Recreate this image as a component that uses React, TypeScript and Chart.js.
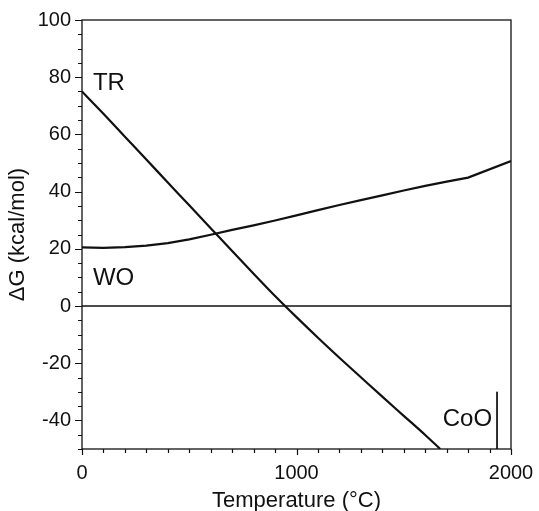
import React, { useEffect, useRef } from "react";
import { Chart, registerables } from "chart.js";

Chart.register(...registerables);

const trTemps = [0, 100, 200, 300, 400, 500, 600, 700, 800, 900, 1000, 1100, 1200, 1300, 1400, 1500, 1600, 1670];
const trValues = [75, 67.2, 59.2, 51.2, 43.2, 35.2, 27.2, 19.2, 11.3, 3.5, -3.9, -11.1, -18.1, -24.9, -31.7, -38.4, -45.1, -50];

const woTemps = [0, 100, 200, 300, 400, 500, 600, 700, 800, 900, 1000, 1100, 1200, 1300, 1400, 1500, 1600, 1700, 1800, 2000];
const woValues = [20.5, 20.3, 20.6, 21.1, 22.0, 23.3, 24.9, 26.6, 28.2, 29.9, 31.7, 33.5, 35.3, 37.0, 38.7, 40.4, 42.0, 43.5, 44.9, 50.7];

const zeroTemps = [0, 2000];
const zeroValues = [0, 0];

const cooTemps = [1935, 1935];
const cooValues = [-30, -50];

const yMajorLabels = [-40, -20, 0, 20, 40, 60, 80, 100];
const xMajorLabels = [0, 1000, 2000];

const curveLabels = [
  { text: "TR", x: 51, y: 75.5 },
  { text: "WO", x: 51, y: 7.3 },
  { text: "CoO", x: 1682, y: -42 },
];

const FONT = "'Liberation Sans', Arial, Helvetica, sans-serif";

const toPoints = (xs: number[], ys: number[]) => xs.map((x, i) => ({ x, y: ys[i] }));

const framePlugin = {
  id: "frame",
  afterDatasetsDraw(chart: any) {
    const { ctx, chartArea, scales } = chart;
    const xs = scales.x;
    const ys = scales.y;
    ctx.save();
    ctx.strokeStyle = "#111";
    ctx.lineWidth = 1.3;
    ctx.strokeRect(chartArea.left, chartArea.top, chartArea.right - chartArea.left, chartArea.bottom - chartArea.top);
    ctx.lineWidth = 1.2;
    ctx.beginPath();
    for (let v = -50; v <= 100; v += 5) {
      const py = Math.round(ys.getPixelForValue(v)) + 0.5;
      const len = yMajorLabels.includes(v) ? 7 : 4;
      ctx.moveTo(chartArea.left, py);
      ctx.lineTo(chartArea.left - len, py);
    }
    for (let v = 0; v <= 2000; v += 100) {
      const px = Math.round(xs.getPixelForValue(v)) + 0.5;
      const len = xMajorLabels.includes(v) ? 6 : 4;
      ctx.moveTo(px, chartArea.bottom);
      ctx.lineTo(px, chartArea.bottom + len);
    }
    ctx.stroke();
    ctx.fillStyle = "#111";
    ctx.font = `24px ${FONT}`;
    ctx.textAlign = "left";
    ctx.textBaseline = "alphabetic";
    for (const l of curveLabels) {
      ctx.fillText(l.text, xs.getPixelForValue(l.x), ys.getPixelForValue(l.y));
    }
    ctx.restore();
  },
};

export default function App() {
  const ref = useRef<HTMLCanvasElement>(null);
  useEffect(() => {
    if (!ref.current) return;
    const lineDs = (data: any[], width: number, smooth = false) => ({
      data,
      borderColor: "#111",
      borderWidth: width,
      pointRadius: 0,
      fill: false,
      tension: 0,
      ...(smooth ? { cubicInterpolationMode: "monotone" } : {}),
    });
    const chart = new Chart(ref.current, {
      type: "line",
      data: {
        datasets: [
          lineDs(toPoints(trTemps, trValues), 2.2, true),
          lineDs(toPoints(woTemps, woValues), 2.2),
          lineDs(toPoints(zeroTemps, zeroValues), 1.3),
          lineDs(toPoints(cooTemps, cooValues), 1),
        ] as any,
      },
      options: {
        animation: false,
        responsive: false,
        layout: { padding: { left: 0, right: 28, top: 20, bottom: 0 } },
        plugins: { legend: { display: false }, tooltip: { enabled: false } },
        scales: {
          x: {
            type: "linear",
            min: 0,
            max: 2000,
            border: { display: false },
            grid: { display: false, drawTicks: false },
            ticks: {
              stepSize: 100,
              autoSkip: false,
              maxRotation: 0,
              padding: 12,
              color: "#111",
              font: { family: FONT, size: 20 },
              callback: (v: any) => (xMajorLabels.includes(Number(v)) ? String(v) : ""),
            },
            title: {
              display: true,
              text: "Temperature (°C)",
              color: "#111",
              font: { family: FONT, size: 22, lineHeight: 0.9 },
              padding: 0,
            },
            afterFit: (s: any) => {
              s.height = 62;
              s.paddingLeft = 0;
              s.paddingRight = 0;
            },
          },
          y: {
            type: "linear",
            min: -50,
            max: 100,
            border: { display: false },
            grid: { display: false, drawTicks: false },
            ticks: {
              stepSize: 5,
              autoSkip: false,
              padding: 11,
              color: "#111",
              font: { family: FONT, size: 20 },
              callback: (v: any) => (yMajorLabels.includes(Number(v)) ? String(v) : ""),
            },
            title: {
              display: true,
              text: "ΔG (kcal/mol)",
              color: "#111",
              font: { family: FONT, size: 22, lineHeight: 1.6 },
              padding: 0,
            },
            afterFit: (s: any) => {
              s.width = 82;
              s.paddingTop = 0;
              s.paddingBottom = 0;
            },
          },
        },
      },
      plugins: [framePlugin],
    });
    return () => chart.destroy();
  }, []);
  return (
    <div style={{ position: "fixed", left: 0, top: 0, width: 539, height: 511, background: "#fff" }}>
      <canvas ref={ref} width={539} height={511} />
    </div>
  );
}
